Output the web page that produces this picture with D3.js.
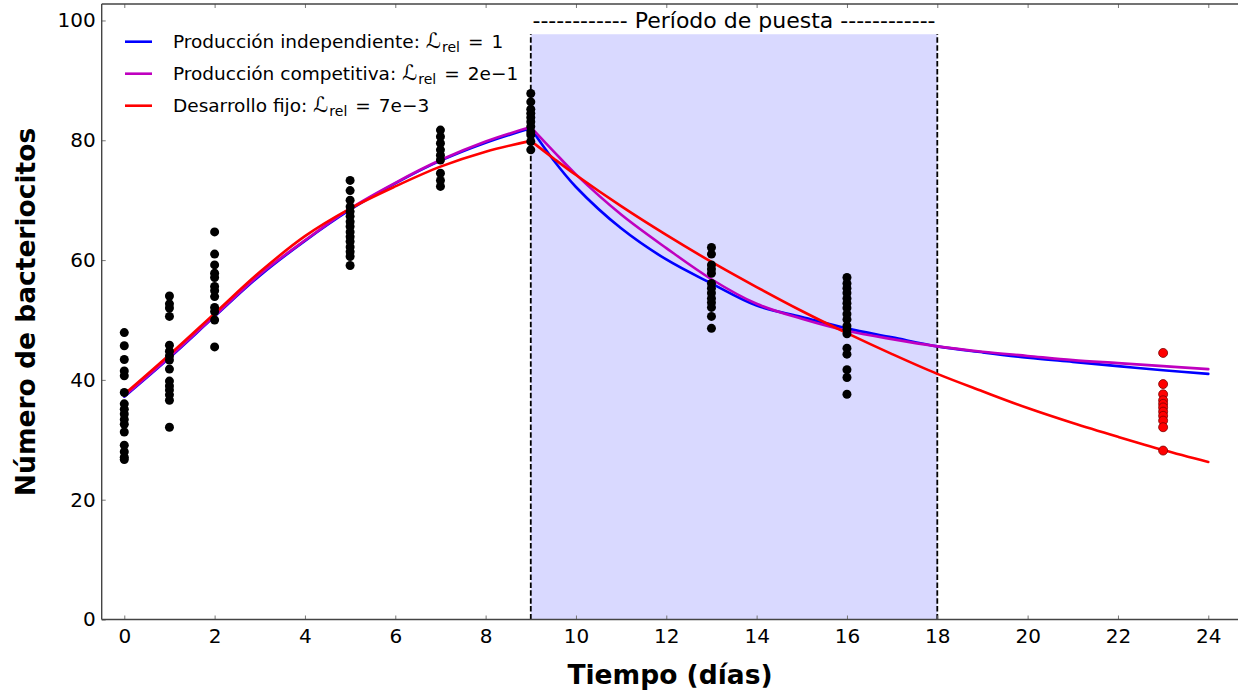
<!DOCTYPE html>
<html>
<head>
<meta charset="utf-8">
<script src="https://cdn.jsdelivr.net/npm/d3@7"></script>
<style>
  body { margin: 0; background: #fff; }
  svg { display: block; font-family: "DejaVu Sans", sans-serif; }
</style>
</head>
<body>
<svg id="chart" width="1238" height="695"></svg>
<script>
// Sampled bacteriocyte counts per insect, grouped by day
const sampleDays = [0, 1, 2, 5, 7, 9, 13, 16];
const sampleCounts = [
  [47.9, 45.7, 43.4, 41.5, 40.7, 37.9, 36.0, 35.1, 34.3, 33.4, 32.6, 31.3, 29.1, 28.0, 27.1, 26.7],
  [54.0, 52.7, 52.0, 50.6, 45.8, 44.8, 44.0, 43.3, 41.8, 39.8, 39.0, 38.3, 37.5, 36.6, 32.1],
  [64.7, 61.0, 59.2, 57.8, 57.1, 55.6, 54.9, 53.9, 52.1, 51.4, 50.0, 45.5],
  [73.3, 71.6, 70.0, 68.9, 68.1, 67.3, 66.4, 65.6, 64.7, 63.9, 63.1, 62.2, 61.4, 60.6, 59.1],
  [81.7, 80.6, 79.5, 78.4, 77.5, 76.7, 74.5, 73.3, 72.3],
  [87.8, 86.4, 85.2, 84.5, 83.8, 83.1, 82.3, 81.4, 80.9, 79.8, 78.4],
  [62.1, 61.0, 59.2, 58.5, 57.8, 56.1, 55.3, 54.5, 53.6, 52.9, 52.1, 50.6, 48.6],
  [57.1, 56.1, 55.3, 54.5, 53.6, 52.8, 52.0, 51.0, 50.1, 49.0, 48.4, 47.7, 45.3, 44.3, 41.7, 40.4, 37.6]
];
// Late sample (day 23), shown in red
const lateDay = 23;
const lateCounts = [44.5, 39.3, 37.6, 36.6, 36.0, 35.4, 34.7, 34.0, 33.2, 32.1, 28.2];

// Model trajectories: growth phase (days 0-9) and decline phase (days 9-24)
const riseDays = [0, 1, 2, 3, 4, 5, 6, 7, 8, 9];
const fallDays = [9, 9.5, 10, 11, 12, 13, 14, 15, 16, 17, 18, 19, 20, 21, 22, 23, 24];
const independentRise = [37.2, 43.7, 50.6, 57.4, 63.2, 68.4, 72.8, 76.6, 79.6, 82.0];
const independentFall = [82.0, 76.7, 72.2, 65.3, 60.1, 56.1, 52.4, 50.5, 48.6, 47.1, 45.6, 44.6, 43.7, 43.0, 42.3, 41.6, 41.0];
const competitiveRise = [37.3, 43.8, 50.7, 57.6, 63.3, 68.6, 72.9, 76.7, 79.8, 82.2];
const competitiveFall = [82.2, 78.2, 74.3, 67.6, 62.0, 56.8, 52.7, 50.2, 48.2, 46.8, 45.6, 44.7, 44.0, 43.3, 42.8, 42.3, 41.8];
const fixedRise = [37.6, 44.2, 51.1, 58.0, 64.0, 68.6, 72.3, 75.6, 78.1, 79.9];
const fixedFall = [79.9, 77.0, 74.2, 69.0, 64.2, 59.7, 55.5, 51.5, 47.8, 44.3, 41.0, 38.1, 35.3, 32.8, 30.5, 28.3, 26.3];

const seriesNames = ["Producción independiente", "Producción competitiva", "Desarrollo fijo"];
const seriesLik = ["1", "2e\u22121", "7e\u22123"];
const seriesColors = ["#0000ff", "#bf00bf", "#ff0000"];

const xTicks = [0, 2, 4, 6, 8, 10, 12, 14, 16, 18, 20, 22, 24];
const yTicks = [0, 20, 40, 60, 80, 100];
const layingPeriod = [9, 18];
const layingTop = 97.7;

const svg = d3.select("#chart");
const W = 1238, H = 695;
const plotLeft = 101.7, plotBottom = 619.5, plotTop = 4;
const pxPerDay = 45.167;

const x = d3.scaleLinear().domain([-0.5, 25]).range([plotLeft, plotLeft + 25.5 * pxPerDay]);
const y = d3.scaleLinear().domain([0, 102.75]).range([plotBottom, plotTop]);

const plot = svg.append("g");

// Egg-laying period shading and its bounding dashed lines
plot.append("rect")
  .attr("x", x(layingPeriod[0]))
  .attr("y", y(layingTop))
  .attr("width", x(layingPeriod[1]) - x(layingPeriod[0]))
  .attr("height", y(0) - y(layingTop))
  .attr("fill", "#d9d9ff");

plot.selectAll("line.period")
  .data(layingPeriod)
  .join("line")
  .attr("class", "period")
  .attr("x1", d => x(d)).attr("x2", d => x(d))
  .attr("y1", y(0)).attr("y2", y(layingTop))
  .attr("stroke", "#000")
  .attr("stroke-width", 1.8)
  .attr("stroke-dasharray", "5.5,2.4");

plot.append("text")
  .attr("x", x((layingPeriod[0] + layingPeriod[1]) / 2))
  .attr("y", 28)
  .attr("text-anchor", "middle")
  .attr("font-size", 22)
  .attr("fill", "#000")
  .text("------------ Período de puesta ------------");

// Model curves
const line = d3.line().x(d => x(d[0])).y(d => y(d[1])).curve(d3.curveCatmullRom.alpha(0.5));
const curves = [
  [independentRise, independentFall],
  [competitiveRise, competitiveFall],
  [fixedRise, fixedFall]
];
curves.forEach((c, i) => {
  const g = plot.append("g")
    .attr("fill", "none")
    .attr("stroke", seriesColors[i])
    .attr("stroke-width", 2.6)
    .attr("stroke-linejoin", "round")
    .attr("stroke-linecap", "round");
  g.append("path").attr("d", line(riseDays.map((d, k) => [d, c[0][k]])));
  g.append("path").attr("d", line(fallDays.map((d, k) => [d, c[1][k]])));
});

// Observations
const obs = [];
sampleDays.forEach((d, i) => sampleCounts[i].forEach(v => obs.push([d, v])));
plot.append("g").selectAll("circle")
  .data(obs)
  .join("circle")
  .attr("cx", d => x(d[0]))
  .attr("cy", d => y(d[1]))
  .attr("r", 4.5)
  .attr("fill", "#000");

plot.append("g").selectAll("circle")
  .data(lateCounts)
  .join("circle")
  .attr("cx", x(lateDay))
  .attr("cy", d => y(d))
  .attr("r", 4.5)
  .attr("fill", "#ff0000")
  .attr("stroke", "#7a0000")
  .attr("stroke-width", 0.8);

// Axes
const axisColor = "#444";
const xAxis = svg.append("g")
  .attr("transform", `translate(0,${plotBottom})`)
  .call(d3.axisBottom(x).tickValues(xTicks).tickSizeInner(-4).tickSizeOuter(0).tickPadding(9));
const xTop = svg.append("g")
  .attr("transform", `translate(0,${plotTop})`)
  .call(d3.axisTop(x).tickValues(xTicks).tickSizeInner(-4).tickSizeOuter(0).tickFormat(""));
const yAxis = svg.append("g")
  .attr("transform", `translate(${plotLeft},0)`)
  .call(d3.axisLeft(y).tickValues(yTicks).tickSizeInner(-4).tickSizeOuter(0).tickPadding(6));

[xAxis, xTop, yAxis].forEach(a => {
  a.select(".domain").remove();
  a.selectAll(".tick line").attr("stroke", "#777").attr("stroke-width", 1);
  a.selectAll(".tick text").attr("font-size", 20).attr("fill", "#000")
    .attr("font-family", "DejaVu Sans, sans-serif");
});

// Spines
svg.append("line").attr("x1", plotLeft).attr("x2", W).attr("y1", plotBottom).attr("y2", plotBottom)
  .attr("stroke", axisColor).attr("stroke-width", 1.4);
svg.append("line").attr("x1", plotLeft).attr("x2", W).attr("y1", plotTop).attr("y2", plotTop)
  .attr("stroke", axisColor).attr("stroke-width", 1.4);
svg.append("line").attr("x1", plotLeft).attr("x2", plotLeft).attr("y1", plotTop).attr("y2", plotBottom)
  .attr("stroke", axisColor).attr("stroke-width", 1.4);

// Axis titles
svg.append("text")
  .attr("x", 670).attr("y", 684)
  .attr("text-anchor", "middle")
  .attr("font-size", 26.5).attr("font-weight", "bold")
  .text("Tiempo (días)");
svg.append("text")
  .attr("transform", "translate(35,312) rotate(-90)")
  .attr("text-anchor", "middle")
  .attr("font-size", 26.5).attr("font-weight", "bold")
  .text("Número de bacteriocitos");

// Legend
const legend = svg.append("g");
seriesNames.forEach((name, i) => {
  const ly = 41.7 + i * 32;
  legend.append("line")
    .attr("x1", 125).attr("x2", 152).attr("y1", ly).attr("y2", ly)
    .attr("stroke", seriesColors[i]).attr("stroke-width", 2.6);
  const t = legend.append("text")
    .attr("x", 173).attr("y", ly + 6.5)
    .attr("font-size", 18.5).attr("fill", "#000");
  t.append("tspan").text(name + ":");
  t.append("tspan").attr("dx", 6).attr("font-size", 21).text("\u2112");
  t.append("tspan").attr("font-size", 14).attr("dy", 4).attr("dx", 1).text("rel");
  t.append("tspan").attr("dy", -4).attr("dx", 8).text("=");
  t.append("tspan").attr("dx", 8).text(seriesLik[i]);
});
</script>
</body>
</html>
